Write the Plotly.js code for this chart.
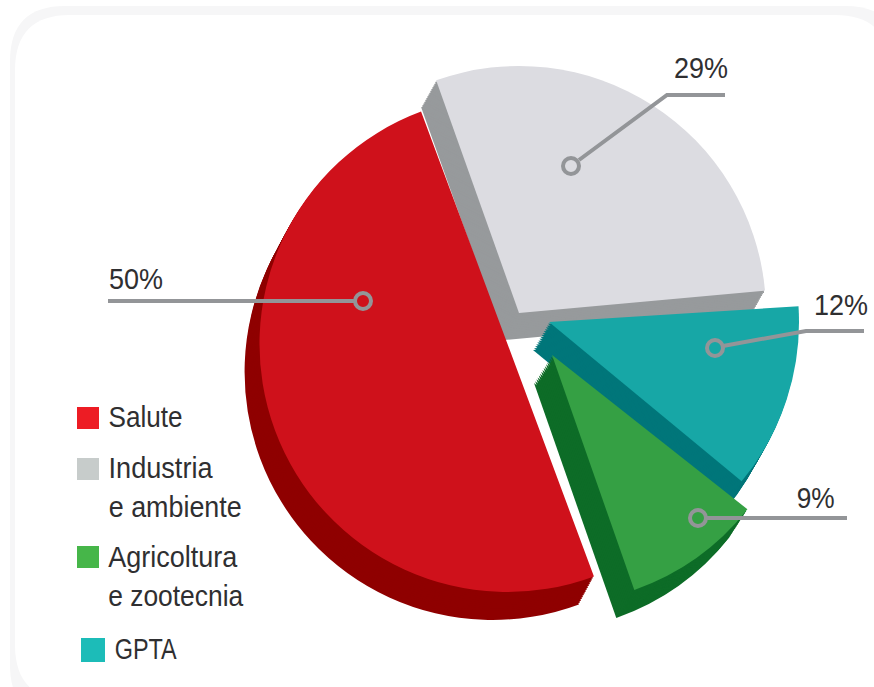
<!DOCTYPE html>
<html><head><meta charset="utf-8">
<script src="https://cdn.plot.ly/plotly-3.0.1.min.js"></script>
<style>html,body{margin:0;padding:0;background:#fff;overflow:hidden}</style>
</head><body><div id="chart" style="width:874px;height:687px"></div>
<script>
const categories = ["Industria e ambiente","GPTA","Agricoltura e zootecnia","Salute"];
const shares = [29,12,9,50];
const faceColors = ["#dcdce1","#17a7a6","#35a044","#cf111b"];
const sideColors = ["#979a9c","#00767a","#0d6c27","#8f0000"];
const legendNames = ["Salute",["Industria","e ambiente"],["Agricoltura","e zootecnia"],"GPTA"];
const legendColors = ["#ed1c24","#c7cccb","#46b649","#1cbcb8"];

const W=874,H=687;
const fx=x=>x/W, fy=y=>1-y/H;
// geometry of each exploded wedge: centre of its circle, radius, rotation, extrusion
const geom=[
 {cx:519,cy:313,r:247,rot:-19.6,dx:-15,dy:27},
 {cx:549,cy:322,r:250,rot:-18.0,dx:-16,dy:28},
 {cx:552,cy:355,r:249,rot:-19.3,dx:-18,dy:28},
 {cx:507.5,cy:344,r:248,rot:-20.4,dx:-15,dy:28}
];
const STEPS=15;
const traces=[];
function wedge(i,ox,oy,color){
  const g=geom[i],cx=g.cx+ox,cy=g.cy+oy;
  traces.push({type:'pie',values:shares,labels:categories,sort:false,direction:'clockwise',rotation:g.rot,
    textinfo:'none',hoverinfo:'skip',showlegend:false,
    marker:{colors:shares.map((_,k)=>k===i?color:'rgba(0,0,0,0)'),line:{width:0}},
    domain:{x:[fx(cx-g.r),fx(cx+g.r)],y:[fy(cy+g.r),fy(cy-g.r)]}});
}
shares.forEach((_,i)=>{
  const g=geom[i];
  for(let s=STEPS;s>=1;s--) wedge(i,g.dx*s/STEPS,g.dy*s/STEPS,sideColors[i]);
  wedge(i,0,0,faceColors[i]);
});

const LINE='#939598';
const seg=pts=>({type:'path',xref:'paper',yref:'paper',layer:'above',
  path:pts.map((p,k)=>(k?'L':'M')+fx(p[0])+','+fy(p[1])).join(' '),line:{color:LINE,width:4}});
const ring=(x,y)=>({type:'circle',xref:'paper',yref:'paper',layer:'above',x0:fx(x-8),x1:fx(x+8),y0:fy(y+8),y1:fy(y-8),
  fillcolor:'rgba(0,0,0,0)',line:{color:LINE,width:4}});
const round=(x0,y0,x1,y1,r,col)=>({type:'path',xref:'paper',yref:'paper',layer:'below',line:{width:0},fillcolor:col,
  path:`M${fx(x0+r)},${fy(y0)} L${fx(x1-r)},${fy(y0)} Q${fx(x1)},${fy(y0)} ${fx(x1)},${fy(y0+r)} L${fx(x1)},${fy(y1-r)} Q${fx(x1)},${fy(y1)} ${fx(x1-r)},${fy(y1)} L${fx(x0+r)},${fy(y1)} Q${fx(x0)},${fy(y1)} ${fx(x0)},${fy(y1-r)} L${fx(x0)},${fy(y0+r)} Q${fx(x0)},${fy(y0)} ${fx(x0+r)},${fy(y0)} Z`});
const shapes=[
  round(10,6,900,720,55,'#f6f6f7'),
  round(15,15,890,700,55,'#ffffff'),
  seg([[579,160],[667,95],[725,95]]), ring(571,166),
  seg([[108,301],[355,301]]), ring(363,301),
  seg([[723,346],[806,331],[864,331]]), ring(715,348),
  seg([[706,518],[847,518]]), ring(698,518)
];
const sq=[[77,407,22],[77,458,22],[77,546,22],[81,638,24]];
sq.forEach((s,i)=>shapes.push({type:'rect',xref:'paper',yref:'paper',layer:'above',x0:fx(s[0]),x1:fx(s[0]+s[2]),y0:fy(s[1]+s[2]),y1:fy(s[1]),
  fillcolor:legendColors[i],line:{width:0}}));

const FONT='"Liberation Sans",sans-serif';
const note=(t,x,y)=>({text:t,xref:'paper',yref:'paper',x:fx(x),y:fy(y),xanchor:'center',yanchor:'middle',showarrow:false,
  font:{family:FONT,size:30,color:'#2f2f31'},borderpad:0,borderwidth:0});
const annotations=[
  note(shares[0]+'%',701,67),
  note(shares[3]+'%',135.5,278.5),
  note(shares[1]+'%',840.5,304),
  note(shares[2]+'%',815.5,497),
  note(legendNames[0],145.5,416),
  note(legendNames[1][0],160.5,467),
  note(legendNames[1][1],175,506),
  note(legendNames[2][0],173,556),
  note(legendNames[2][1],176,595),
  note(legendNames[3],145.5,648)
];
const textWidths=[54,54,54,38,74,104,133,129,135,62];
Plotly.newPlot('chart',traces,{width:W,height:H,margin:{l:0,r:0,t:0,b:0,pad:0},paper_bgcolor:'#ffffff',
  showlegend:false,shapes,annotations,hovermode:false},{displayModeBar:false,staticPlot:true}).then(()=>{
  // the reference uses a condensed face: narrow the real text to its measured widths
  document.querySelectorAll('.annotation-text').forEach((el,i)=>{
    el.setAttribute('textLength',textWidths[i]);
    el.setAttribute('lengthAdjust','spacingAndGlyphs');
  });
});
</script></body></html>
